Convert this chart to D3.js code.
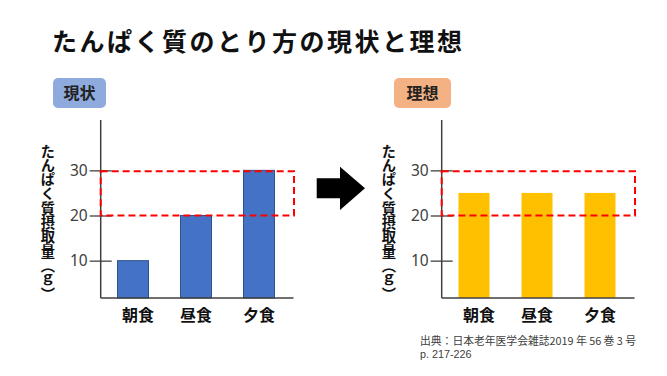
<!DOCTYPE html>
<html>
<head>
<meta charset="utf-8">
<script src="https://cdn.jsdelivr.net/npm/d3@7"></script>
<style>
  html, body { margin: 0; padding: 0; background: #fff; }
  svg { display: block; font-family: "Noto Sans CJK JP", "Noto Sans", sans-serif; }
</style>
</head>
<body>
<div id="chart"></div>
<script>
// data
const meals = ['朝食', '昼食', '夕食'];
const currentIntake = [10, 20, 30];
const idealIntake = [25, 25, 25];
const yTicks = [10, 20, 30];
const targetRange = [20, 30];
const panelNames = ['現状', '理想'];
const titleText = 'たんぱく質のとり方の現状と理想';
const yTitle = 'たんぱく質摂取量（ｇ）';
const sourceLines = ['出典：日本老年医学会雑誌2019 年 56 巻 3 号', 'p. 217-226'];

const width = 667;
const height = 376;

const svg = d3.select('#chart')
  .append('svg')
  .attr('width', width)
  .attr('height', height);

// title
svg.append('text')
  .attr('x', 52)
  .attr('y', 51)
  .attr('font-size', 25)
  .attr('font-weight', 'bold')
  .attr('letter-spacing', 2.5)
  .attr('fill', '#111')
  .text(titleText);

const yScale = d3.scaleLinear().domain([0, 40]).range([305.8, 125.2]);
const xScale = d3.scalePoint().domain(meals).range([133, 259]);
const baselineY = 298;
const axisX = 100.7;
const barWidth = 31;

const panels = [
  { name: panelNames[0], values: currentIntake, fill: '#4472C4', stroke: '#2F528F', box: '#8FAADC', dx: 0 },
  { name: panelNames[1], values: idealIntake, fill: '#FFC000', stroke: 'none', box: '#F4B183', dx: 341 }
];

panels.forEach((p) => {
  const g = svg.append('g').attr('transform', `translate(${p.dx},0)`);

  // label box
  g.append('rect')
    .attr('x', 53).attr('y', 78)
    .attr('width', p.dx ? 57 : 53).attr('height', 30)
    .attr('rx', 5)
    .attr('fill', p.box);
  g.append('text')
    .attr('x', p.dx ? 81.5 : 79.5).attr('y', 99)
    .attr('text-anchor', 'middle')
    .attr('font-size', 16)
    .attr('font-weight', 'bold')
    .attr('fill', '#222')
    .text(p.name);

  // y title, vertical
  g.append('text')
    .attr('x', 48).attr('y', 144)
    .style('writing-mode', 'vertical-rl')
    .attr('font-size', 14.3)
    .attr('font-weight', 'bold')
    .attr('fill', '#111')
    .text(yTitle);

  // bars
  g.append('g')
    .selectAll('rect')
    .data(p.values)
    .join('rect')
    .attr('x', (d, i) => xScale(meals[i]) - barWidth / 2)
    .attr('y', (d) => yScale(d))
    .attr('width', barWidth)
    .attr('height', (d) => baselineY - yScale(d))
    .attr('fill', p.fill)
    .attr('stroke', p.stroke)
    .attr('stroke-width', 1);

  // y axis
  const yAxis = g.append('g')
    .attr('transform', `translate(${axisX},0)`)
    .call(d3.axisLeft(yScale).tickValues(yTicks).tickSizeInner(11).tickSizeOuter(0).tickPadding(2));
  yAxis.select('.domain').remove();
  yAxis.selectAll('.tick line')
    .attr('x1', 11).attr('x2', -11)
    .attr('stroke', '#404040').attr('stroke-width', 1.3);
  yAxis.selectAll('.tick text')
    .attr('font-size', 15.5)
    .attr('font-family', '"Noto Sans", sans-serif')
    .attr('fill', '#404040');

  g.append('line')
    .attr('x1', axisX).attr('x2', axisX)
    .attr('y1', 120).attr('y2', baselineY)
    .attr('stroke', '#404040').attr('stroke-width', 1.5);
  g.append('line')
    .attr('x1', axisX).attr('x2', 293.5)
    .attr('y1', baselineY).attr('y2', baselineY)
    .attr('stroke', '#404040').attr('stroke-width', 1.5);

  // target range box
  g.append('rect')
    .attr('x', axisX)
    .attr('y', yScale(targetRange[1]) + 1)
    .attr('width', 294 - axisX)
    .attr('height', yScale(targetRange[0]) - yScale(targetRange[1]) - 1)
    .attr('fill', 'none')
    .attr('stroke', '#FF0000')
    .attr('stroke-width', 2)
    .attr('stroke-dasharray', '7,4');

  // category labels
  g.append('g')
    .selectAll('text')
    .data(meals)
    .join('text')
    .attr('x', (d, i) => xScale(d) + (i === 0 ? 5 : 0))
    .attr('y', 321)
    .attr('text-anchor', 'middle')
    .attr('font-size', 16)
    .attr('font-weight', 'bold')
    .attr('fill', '#111')
    .text((d) => d);
});

// arrow
svg.append('path')
  .attr('d', 'M316.7,178.3 L340,178.3 L340,166.7 L365,188.3 L340,210 L340,198.3 L316.7,198.3 Z')
  .attr('fill', '#000');

// source
svg.append('text')
  .attr('x', 420).attr('y', 345)
  .attr('font-size', 10.8)
  .attr('fill', '#404040')
  .text(sourceLines[0]);
svg.append('text')
  .attr('x', 420).attr('y', 358)
  .attr('font-size', 10.8)
  .attr('font-family', '"Liberation Sans", Arial, sans-serif')
  .attr('fill', '#404040')
  .text(sourceLines[1]);
</script>
</body>
</html>
